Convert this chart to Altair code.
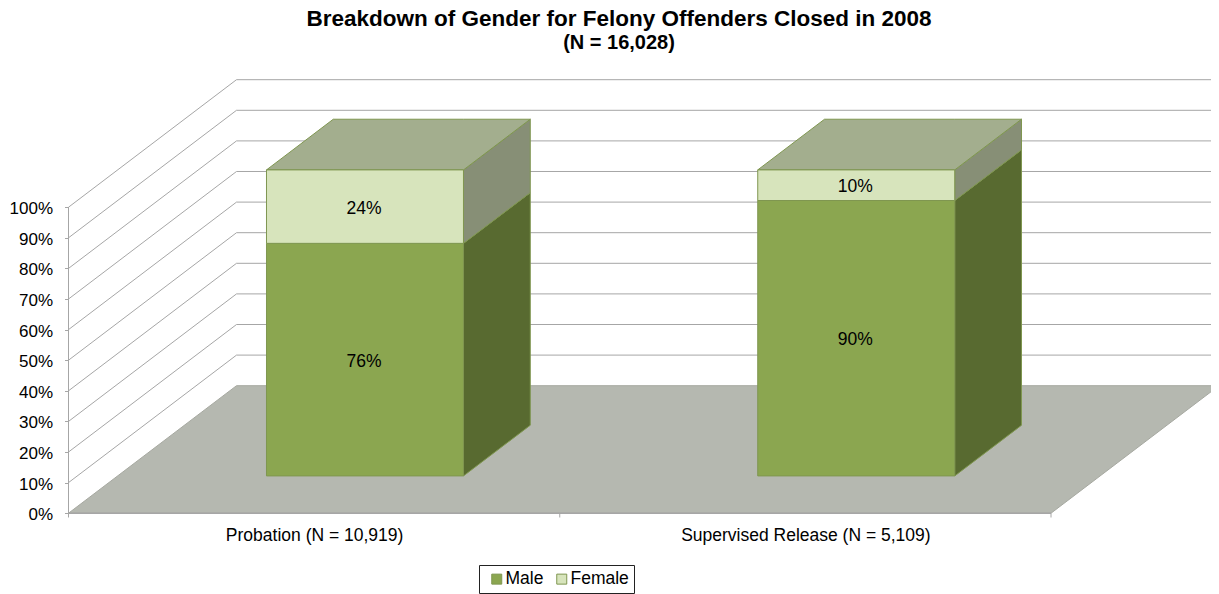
import altair as alt
import pandas as pd

TITLE = "Breakdown of Gender for Felony Offenders Closed in 2008"
SUBTITLE = "(N = 16,028)"
CATEGORIES = ["Probation (N = 10,919)", "Supervised Release (N = 5,109)"]
MALE = [76, 90]
FEMALE = [24, 10]
PCT_TICKS = [0, 10, 20, 30, 40, 50, 60, 70, 80, 90, 100]

FONT = "Liberation Sans"
C_MALE, C_FEMALE = "#8BA650", "#D7E4BC"
C_TOP, C_SIDE_F, C_SIDE_M = "#A3AE8E", "#878F76", "#586A30"
C_FLOOR, C_GRID, C_EDGE = "#B5B8B0", "#A6A6A6", "#7F9650"

# oblique projection: one unit of depth moves right and up
SHIFT_X, SHIFT_Y = 0.342, 41.67
T0, T1 = 0.2925, 0.69
BAR_W, BAR_C = 0.401, 0.5035

x_scale = alt.Scale(domain=[-0.12316, 2.3257], range=[0, 1203], nice=False, zero=False)
y_scale = alt.Scale(domain=[-26.4, 165.1], range=[586, 0], nice=False, zero=False)

label_expr = f"datum.value < 1 ? '{CATEGORIES[0]}' : '{CATEGORIES[1]}'"
x_axis = alt.Axis(
    title=None, values=[0.5, 1.5], labelExpr=label_expr, ticks=False, domain=False, grid=False,
    offset=-80.7, labelFont=FONT, labelFontSize=17.5, labelColor="#000000", labelPadding=13,
    labelFlush=False, labelOverlap=False, labelLimit=500,
)
y_axis = alt.Axis(
    title=None, values=PCT_TICKS, labelExpr="datum.value + '%'", domain=False, grid=False,
    offset=-60.5, tickColor=C_GRID, tickSize=4, labelFont=FONT, labelFontSize=17,
    labelColor="#000000", labelPadding=12, labelOffset=1.5,
)


def X(field):
    return alt.X(field, type="quantitative", scale=x_scale, axis=x_axis)


def Y(field):
    return alt.Y(field, type="quantitative", scale=y_scale, axis=y_axis)


def para_top(x0, x1, y, t0, t1):
    sx, sy = (t1 - t0) * SHIFT_X, (t1 - t0) * SHIFT_Y
    ox, oy = t0 * SHIFT_X, t0 * SHIFT_Y
    a, b, c, d = x0 + ox, x0 + ox + sx, x1 + ox, x1 + ox + sx
    lo, hi = y + oy, y + oy + sy
    return pd.DataFrame(dict(px=[a, b, c, d], y1=[lo, lo, lo, hi], y2=[lo, hi, hi, hi]))


def para_side(x, yb, yt, t0, t1):
    return pd.DataFrame(dict(
        px=[x + t0 * SHIFT_X, x + t1 * SHIFT_X],
        y1=[yb + t0 * SHIFT_Y, yb + t1 * SHIFT_Y],
        y2=[yt + t0 * SHIFT_Y, yt + t1 * SHIFT_Y],
    ))


def face(df, fill, stroke=C_EDGE):
    return alt.Chart(df).mark_area(color=fill, stroke=stroke, strokeWidth=1, clip=True).encode(
        x=X("px"), y=Y("y1"), y2=alt.Y2("y2")
    )


# wall grid lines
grid_rows = []
for p in PCT_TICKS[1:]:
    grid_rows += [
        dict(p=p, px=0, py=p, k=0),
        dict(p=p, px=SHIFT_X, py=p + SHIFT_Y, k=1),
        dict(p=p, px=2 + SHIFT_X, py=p + SHIFT_Y, k=2),
    ]
grid = alt.Chart(pd.DataFrame(grid_rows)).mark_line(color=C_GRID, strokeWidth=1, clip=True).encode(
    x=X("px"), y=Y("py"), detail="p:N", order="k:Q"
)

floor = face(para_top(0, 2, 0, 0, 1), C_FLOOR, "#A6A8A0")

faces, front_rows, label_rows = [], [], []
for i, (m, f) in enumerate(zip(MALE, FEMALE)):
    x0 = i + BAR_C - BAR_W / 2
    x1 = i + BAR_C + BAR_W / 2
    faces.append(face(para_side(x1, 0, m, T0, T1), C_SIDE_M))
    faces.append(face(para_side(x1, m, m + f, T0, T1), C_SIDE_F))
    faces.append(face(para_top(x0, x1, m + f, T0, T1), C_TOP))
    ox, oy = T0 * SHIFT_X, T0 * SHIFT_Y
    for g, lo, hi in (("Male", 0, m), ("Female", m, m + f)):
        front_rows.append(dict(gender=g, a=x0 + ox, b=x1 + ox, lo=lo + oy, hi=hi + oy))
        label_rows.append(dict(lx=(x0 + x1) / 2 + ox, ly=(lo + hi) / 2 + oy, t=f"{hi - lo}%"))

front = alt.Chart(pd.DataFrame(front_rows)).mark_bar(stroke=C_EDGE, strokeWidth=1).encode(
    x=X("a"),
    x2=alt.X2("b"),
    y=Y("lo"),
    y2=alt.Y2("hi"),
    color=alt.Color(
        "gender:N",
        scale=alt.Scale(domain=["Male", "Female"], range=[C_MALE, C_FEMALE]),
        legend=alt.Legend(
            orient="none", legendX=471, legendY=557, direction="horizontal", title=None,
            symbolType="square", symbolSize=100, symbolStrokeColor=C_EDGE, symbolStrokeWidth=1,
            symbolOffset=4, labelFont=FONT, labelFontSize=17.5, labelColor="#000000", labelOffset=0,
            strokeColor="#222222", fillColor="#FFFFFF", padding=5, columnPadding=5,
        ),
    ),
)

labels = alt.Chart(pd.DataFrame(label_rows)).mark_text(
    font=FONT, fontSize=17.5, color="#000000", dy=2, dx=-1
).encode(
    x=X("lx"), y=Y("ly"), text="t:N"
)

y_line = alt.Chart(pd.DataFrame({"a": [0], "lo": [0], "hi": [100]})).mark_rule(color=C_GRID, strokeWidth=1).encode(
    x=X("a"), y=Y("lo"), y2=alt.Y2("hi")
)
x_line = alt.Chart(pd.DataFrame({"a": [0], "b": [2], "lo": [0]})).mark_rule(color=C_GRID, strokeWidth=1.5).encode(
    x=X("a"), x2=alt.X2("b"), y=Y("lo")
)
x_ticks = alt.Chart(pd.DataFrame({"a": [0, 1, 2], "lo": [0, 0, 0], "hi": [-1.4, -1.4, -1.4]})).mark_rule(
    color=C_GRID, strokeWidth=1
).encode(x=X("a"), y=Y("lo"), y2=alt.Y2("hi"))

chart = alt.layer(
    grid, floor, y_line, x_line, x_ticks, *faces, front, labels
).properties(
    width=1203,
    height=586,
    padding=0,
    background="#FFFFFF",
    autosize=alt.AutoSizeParams(type="none"),
    title=alt.TitleParams(
        text=TITLE, subtitle=SUBTITLE, anchor="middle", orient="top", offset=-45, dx=9.5,
        font=FONT, fontSize=22.5, fontWeight="bold", color="#000000",
        subtitleFont=FONT, subtitleFontSize=20, subtitleFontWeight="bold", subtitleColor="#000000",
        subtitlePadding=3, limit=1100,
    ),
).configure_view(stroke=None)

chart.save("out.html", embed_options={"renderer": "svg", "actions": False})
